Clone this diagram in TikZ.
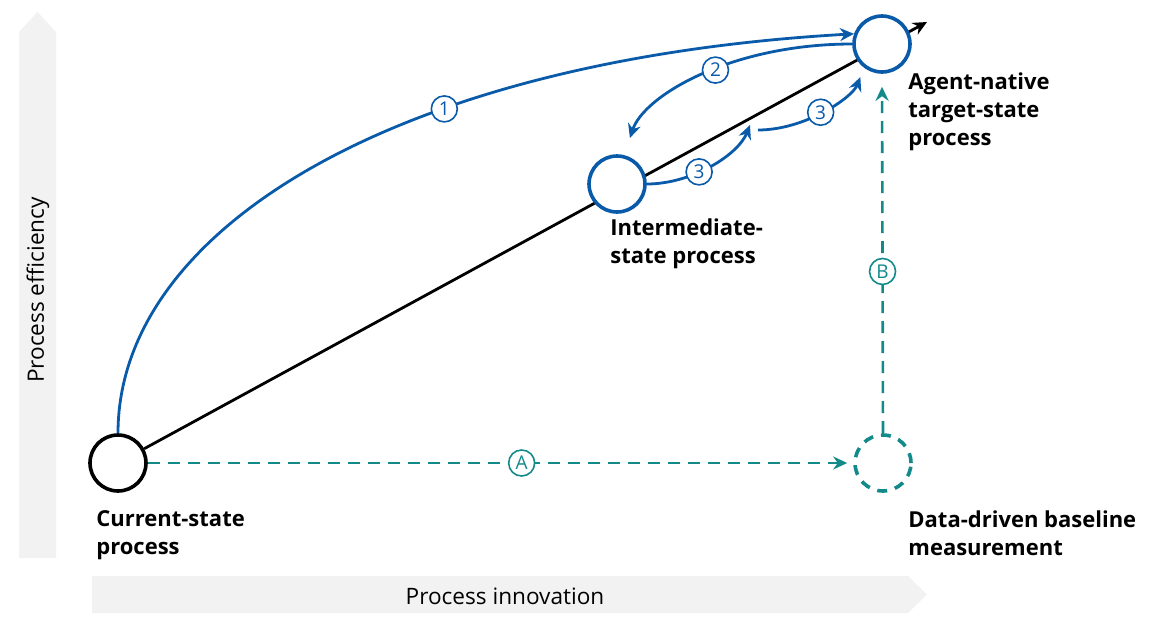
\documentclass[tikz,border=0pt]{standalone}
\usepackage{fontspec}
\setmainfont{Open Sans}
\usetikzlibrary{arrows.meta,positioning,backgrounds}
\definecolor{flowblue}{HTML}{0A5AAA}
\definecolor{flowteal}{HTML}{138A8A}
\definecolor{axisgray}{HTML}{F2F2F2}

\begin{document}
\begin{tikzpicture}[x=0.5pt,y=-0.5pt,
  state/.style={circle,draw,fill=white,line width=1.8pt,minimum size=28pt,inner sep=0pt},
  numlabel/.style={circle,draw=#1,fill=white,text=#1,solid,line width=0.8pt,minimum size=13pt,inner sep=0pt,font=\fontsize{9.5}{10}\selectfont},
  numlabel/.default=flowblue,
  caption/.style={anchor=north west,align=left,inner sep=0pt,font=\bfseries\fontsize{11}{14}\selectfont},
  axislabel/.style={inner sep=0pt,font=\fontsize{11.3}{13}\selectfont},
  blueflow/.style={draw=flowblue,line width=1.4pt,-{Stealth[length=7pt,width=6.5pt]}},
  tealflow/.style={draw=flowteal,line width=1.3pt,dash pattern=on 6pt off 4pt,-{Stealth[length=7pt,width=6.5pt]}}]
  \useasboundingbox (0,0) rectangle (1163,627);

  % axes
  \fill[axisgray] (19,558) -- (19,32) -- (37.5,12) -- (56,32) -- (56,558) -- cycle;
  \fill[axisgray] (92,576) -- (908,576) -- (927,594.5) -- (908,613) -- (92,613) -- cycle;
  \node[axislabel] (xlab) at (505,596) {Process innovation};
  \node[axislabel,rotate=90] (ylab) at (38,290) {Process efficiency};

  % states
  \node[state] (cur) at (118,463) {};
  \node[state,draw=flowblue] (mid) at (617,184) {};
  \node[state,draw=flowblue] (tgt) at (882,44) {};
  \node[state,draw=flowteal,dash pattern=on 5pt off 4pt] (base) at (883,463) {};
  \coordinate (tip) at (927,22);
  \coordinate (hop) at (750,125);
  \coordinate (hopout) at (758,130);

  \node[caption] (curtxt) at (96,510) {Current-state\\process};
  \node[caption] (midtxt) at (610,218) {Intermediate-\\state process};
  \node[caption] (tgttxt) at (908,72) {Agent-native\\target-state\\process};
  \node[caption] (basetxt) at (908,510) {Data-driven baseline\\measurement};

  \begin{scope}[on background layer]
    \draw[line width=1.4pt,-{Stealth[length=7pt,width=6.5pt]}] (cur) -- (tip);
  \end{scope}

  % transitions
  \draw[blueflow] (cur.north) .. controls +(0,-205) and +(-456,26) .. (tgt.160)
    node[numlabel,pos=0.65] {1};
  \draw[blueflow,shorten >=9pt] (tgt.west) .. controls +(-120,0) and +(20,-60) .. (mid.76)
    node[numlabel,pos=0.44] {2};
  \draw[blueflow] (mid.east) .. controls +(45,0) and +(-12,30) .. (hop)
    node[numlabel,pos=0.4] {3};
  \draw[blueflow,shorten >=5pt] (hopout) .. controls +(47,0) and +(-12,30) .. (tgt.233)
    node[numlabel,pos=0.47] {3};

  \draw[tealflow,shorten >=3pt] (cur.east) -- (base.west) node[numlabel=flowteal,pos=0.53] {A};
  \draw[tealflow,shorten >=6.5pt] (base.north) -- (tgt.south) node[numlabel=flowteal,pos=0.45] {B};
\end{tikzpicture}
\end{document}
